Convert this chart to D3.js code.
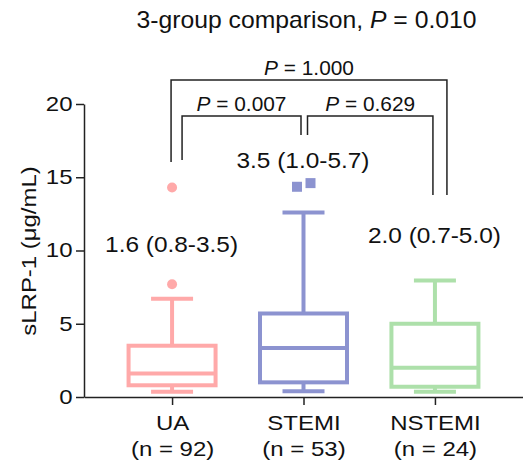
<!DOCTYPE html>
<html>
<head>
<meta charset="utf-8">
<style>
  body { margin: 0; background: white; font-family: Arial, "Liberation Sans", Helvetica, sans-serif; }
  svg { display: block; }
  .axis text { font-size: 20px; fill: #111; font-family: Arial, "Liberation Sans", sans-serif; }
  .axis path, .axis line { stroke: #222; stroke-width: 1.5; }
</style>
<script src="https://cdn.jsdelivr.net/npm/d3@7"></script>
</head>
<body>
<svg id="chart" width="523" height="461"></svg>
<script>
// groups and box statistics (ug/mL)
let groups = ["UA", "STEMI", "NSTEMI"]
let counts = [92, 53, 24]
let mins = [0.35, 0.4, 0.35]
let q1s = [0.8, 1.0, 0.7]
let medians = [1.6, 3.35, 2.0]
let q3s = [3.5, 5.7, 5.0]
let maxs = [6.7, 12.6, 7.95]
let outliers = [[7.7, 14.3], [14.35, 14.6], []]
let summaries = ["1.6 (0.8-3.5)", "3.5 (1.0-5.7)", "2.0 (0.7-5.0)"]
let colors = ["#ffa9a9", "#8c93d0", "#ade0aa"]
let yTicks = [0, 5, 10, 15, 20]

// pairwise comparisons
let compFrom = [0, 0, 1]
let compTo = [2, 1, 2]
let compP = ["1.000", "0.007", "0.629"]
let overallP = "0.010"

let svg = d3.select("#chart")

let x = d3.scalePoint().domain(groups).range([84, 523]).padding(0.67)
let y = d3.scaleLinear().domain([0, 20]).range([397, 104])

// the source figure is stretched a bit horizontally, so text is too
function label(x0, y0, size, sx) {
  return svg.append("text")
    .attr("transform", `translate(${x0},${y0}) scale(${sx},1)`)
    .attr("text-anchor", "middle")
    .attr("font-size", size)
    .attr("fill", "#111")
}

// y axis
let yAxis = svg.append("g").attr("class", "axis")
  .attr("transform", "translate(84,0)")
  .call(d3.axisLeft(y).tickValues(yTicks).tickSize(8).tickSizeOuter(0).tickPadding(3))
yAxis.selectAll(".tick text")
  .attr("x", -11.5 / 1.2)
  .attr("transform", "scale(1.2,1)")

// x axis
let xAxis = svg.append("g").attr("class", "axis")
  .attr("transform", "translate(0,397)")
  .call(d3.axisBottom(x).tickSize(8).tickSizeOuter(0).tickFormat(""))

xAxis.selectAll(".tick").each(function (d, i) {
  let t = d3.select(this).append("text")
    .attr("text-anchor", "middle")
    .attr("transform", "scale(1.2,1)")
    .attr("fill", "#111")
  t.append("tspan").attr("x", 0).attr("y", 33).text(d)
  t.append("tspan").attr("x", 0).attr("y", 59).text("(n = " + counts[i] + ")")
})

svg.append("text")
  .attr("transform", "translate(36,251) rotate(-90) scale(1.14,1)")
  .attr("text-anchor", "middle")
  .attr("font-size", 21)
  .attr("fill", "#111")
  .text("sLRP-1 (μg/mL)")

// boxes
let boxW = 87
let capW = 42
let stats = groups.map((g, i) => ({ g, i }))

let box = svg.selectAll(".box").data(stats).enter().append("g")
  .attr("class", "box")
  .attr("stroke", d => colors[d.i])
  .attr("stroke-width", 4)
  .attr("fill", "none")

box.append("line")
  .attr("x1", d => x(d.g)).attr("x2", d => x(d.g))
  .attr("y1", d => y(maxs[d.i])).attr("y2", d => y(q3s[d.i]))
box.append("line")
  .attr("x1", d => x(d.g)).attr("x2", d => x(d.g))
  .attr("y1", d => y(q1s[d.i])).attr("y2", d => y(mins[d.i]))
box.append("line")
  .attr("x1", d => x(d.g) - capW / 2).attr("x2", d => x(d.g) + capW / 2)
  .attr("y1", d => y(maxs[d.i])).attr("y2", d => y(maxs[d.i]))
box.append("line")
  .attr("x1", d => x(d.g) - capW / 2).attr("x2", d => x(d.g) + capW / 2)
  .attr("y1", d => y(mins[d.i])).attr("y2", d => y(mins[d.i]))
box.append("rect")
  .attr("x", d => x(d.g) - boxW / 2).attr("width", boxW)
  .attr("y", d => y(q3s[d.i])).attr("height", d => y(q1s[d.i]) - y(q3s[d.i]))
box.append("line")
  .attr("x1", d => x(d.g) - boxW / 2).attr("x2", d => x(d.g) + boxW / 2)
  .attr("y1", d => y(medians[d.i])).attr("y2", d => y(medians[d.i]))

// outliers: circles for UA, squares for STEMI (slightly spread)
outliers[0].forEach(v => {
  svg.append("circle").attr("cx", x("UA")).attr("cy", y(v)).attr("r", 5).attr("fill", colors[0])
})
let spread = [-6.5, 7]
outliers[1].forEach((v, k) => {
  svg.append("rect")
    .attr("x", x("STEMI") + spread[k] - 5).attr("y", y(v) - 5)
    .attr("width", 10).attr("height", 10).attr("fill", colors[1])
})

// median (IQR) labels
let labelY = [251.7, 168, 243]
summaries.forEach((s, i) => {
  label(x(groups[i]) - 0.5, labelY[i], 22, 1.11).text(s)
})

// brackets
function pText(sel, value) {
  sel.append("tspan").attr("font-style", "italic").text("P")
  sel.append("tspan").text(" = " + value)
}

let bracketTop = [80, 116, 116]
let leftOff = [-1, 10, 4]
let rightOff = [12, -2.5, -2]
let leftEnd = [162, 160, 135]
let rightEnd = [195, 135, 195]

compP.forEach((p, k) => {
  let x1 = x(groups[compFrom[k]]) + leftOff[k]
  let x2 = x(groups[compTo[k]]) + rightOff[k]
  svg.append("path")
    .attr("d", `M${x1},${leftEnd[k]}V${bracketTop[k]}H${x2}V${rightEnd[k]}`)
    .attr("fill", "none").attr("stroke", "#222").attr("stroke-width", 1.5)
  label((x1 + x2) / 2, bracketTop[k] - 5, 19.5, 1.07).call(pText, p)
})

let title = label(306.5, 28, 24, 1.03)
title.append("tspan").text("3-group comparison, ")
title.call(pText, overallP)
</script>
</body>
</html>
